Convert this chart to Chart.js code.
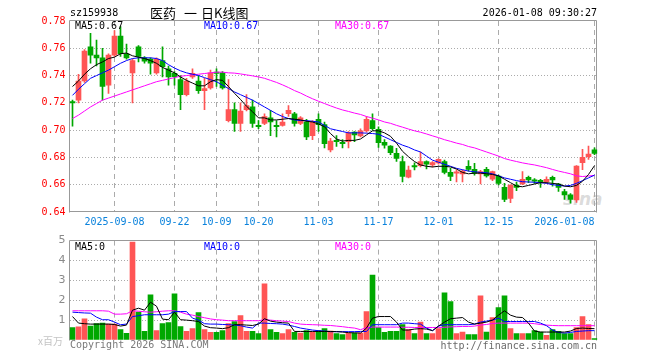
<!DOCTYPE html>
<html><head><meta charset="utf-8">
<script src="https://cdn.jsdelivr.net/npm/chart.js@4.4.1/dist/chart.umd.min.js"></script>
<style>
html,body{margin:0;padding:0;background:#fff;}
#wrap{position:relative;width:660px;height:360px;overflow:hidden;background:#fff;}
canvas{position:absolute;left:0;}
.t{position:absolute;font:10px 'DejaVu Sans Mono',monospace;line-height:10px;white-space:pre;}
</style></head><body>
<div id="wrap">
<div class="t" style="left:563px;top:191px;font:italic bold 17px 'DejaVu Sans',sans-serif;line-height:17px;color:rgba(175,175,175,0.45)">sina</div>
<canvas id="k" width="660" height="232" style="top:0"></canvas>
<canvas id="v" width="660" height="130" style="top:230px"></canvas>
<div class="t" style="left:70px;top:8px;color:#000">sz159938</div>
<div class="t" style="left:150px;top:6px;font:13px 'Noto Sans CJK SC',sans-serif;line-height:13px;color:#000">医药<span style="margin-left:8px">一</span><span style="margin-left:4px">日K线图</span></div>
<div class="t" style="right:63px;top:8px;color:#000">2026-01-08 09:30:27</div>
<div class="t" style="left:75px;top:21px;color:#000">MA5:0.67</div>
<div class="t" style="left:204px;top:21px;color:#0000ff">MA10:0.67</div>
<div class="t" style="left:335px;top:21px;color:#ff00ff">MA30:0.67</div>
<div class="t" style="left:75px;top:242px;color:#000">MA5:0</div>
<div class="t" style="left:204px;top:242px;color:#0000ff">MA10:0</div>
<div class="t" style="left:335px;top:242px;color:#ff00ff">MA30:0</div>
<div class="t" style="left:38px;top:336px;font:10px 'Noto Sans CJK SC',sans-serif;line-height:10px;color:#c4c4c4">x百万</div>
<div class="t" style="left:70px;top:340px;color:#7a7a7a">Copyright 2026 SINA.COM</div>
<div class="t" style="right:63px;top:341px;color:#6a6a6a">http://finance.sina.com.cn</div>
</div>
<script>
const dates = ['2025-08-28','2025-08-29',
'2025-09-01','2025-09-02','2025-09-03','2025-09-04','2025-09-05',
'2025-09-08','2025-09-09','2025-09-10','2025-09-11','2025-09-12',
'2025-09-15','2025-09-16','2025-09-17','2025-09-18','2025-09-19',
'2025-09-22','2025-09-23','2025-09-24','2025-09-25','2025-09-26',
'2025-09-29','2025-09-30',
'2025-10-09','2025-10-10',
'2025-10-13','2025-10-14','2025-10-15','2025-10-16','2025-10-17',
'2025-10-20','2025-10-21','2025-10-22','2025-10-23','2025-10-24',
'2025-10-27','2025-10-28','2025-10-29','2025-10-30','2025-10-31',
'2025-11-03','2025-11-04','2025-11-05','2025-11-06','2025-11-07',
'2025-11-10','2025-11-11','2025-11-12','2025-11-13','2025-11-14',
'2025-11-17','2025-11-18','2025-11-19','2025-11-20','2025-11-21',
'2025-11-24','2025-11-25','2025-11-26','2025-11-27','2025-11-28',
'2025-12-01','2025-12-02','2025-12-03','2025-12-04','2025-12-05',
'2025-12-08','2025-12-09','2025-12-10','2025-12-11','2025-12-12',
'2025-12-15','2025-12-16','2025-12-17','2025-12-18','2025-12-19',
'2025-12-22','2025-12-23','2025-12-24','2025-12-25','2025-12-26',
'2025-12-29','2025-12-30','2025-12-31',
'2026-01-05','2026-01-06','2026-01-07','2026-01-08'];

const tickDates  = ['2025-09-08','2025-09-22','2025-10-09','2025-10-20','2025-11-03','2025-11-17','2025-12-01','2025-12-15','2026-01-08'];
const tickLabels = ['2025-09-08','09-22','10-09','10-20','11-03','11-17','12-01','12-15','2026-01-08'];

const openP = [.721,.722,.736,.761,.755,.753,.733,.755,.769,.756,
.742,.761,.753,.752,.742,.751,.745,.7416,.737,.726,
.739,.736,.729,.731,.7425,.742,.707,.715,.705,.715,
.717,.7035,.705,.709,.7035,.7035,.712,.712,.705,.706,
.696,.708,.704,.6855,.6925,.691,.6915,.6985,.6957,.6995,
.707,.7006,.691,.6884,.683,.677,.6655,.674,.674,.677,
.6745,.676,.677,.669,.6685,.668,.6735,.6713,.668,.6713,
.664,.6664,.658,.650,.6598,.6605,.6654,.6636,.6632,.6623,
.6654,.6605,.6549,.6525,.6488,.6762,.6805,.6855];
const closeP = [.720,.736,.758,.755,.753,.732,.755,.769,.756,.753,
.751,.754,.7505,.749,.752,.7465,.739,.7392,.726,.736,
.7416,.729,.7305,.742,.7415,.731,.715,.705,.714,.718,
.705,.7025,.710,.706,.7025,.706,.7145,.705,.709,.695,
.706,.704,.690,.692,.6915,.690,.698,.6965,.6995,.708,
.701,.6908,.689,.6835,.6793,.666,.6708,.673,.677,.675,
.6762,.6786,.669,.666,.6695,.670,.6712,.6683,.6696,.6664,
.6696,.661,.6493,.6598,.6581,.664,.6635,.6626,.6622,.664,
.6635,.6581,.6525,.6493,.6737,.680,.6825,.683];
const highP = [.722,.741,.759,.771,.766,.760,.756,.773,.776,.763,
.752,.762,.754,.753,.753,.761,.747,.743,.740,.738,
.745,.740,.738,.744,.745,.743,.737,.720,.720,.726,
.722,.707,.712,.7145,.707,.712,.718,.713,.710,.708,
.707,.712,.706,.694,.696,.693,.699,.699,.701,.710,
.712,.7025,.693,.6886,.6866,.681,.6737,.676,.684,.6775,
.677,.679,.678,.672,.671,.671,.6776,.6757,.6705,.6727,
.670,.667,.661,.660,.662,.6696,.6664,.6645,.664,.6657,
.6664,.661,.6566,.6535,.674,.686,.6884,.687];
const lowP = [.703,.720,.735,.749,.747,.722,.727,.754,.754,.752,
.720,.750,.749,.741,.741,.739,.733,.733,.715,.725,
.738,.727,.715,.730,.732,.730,.706,.699,.699,.714,
.702,.701,.704,.696,.695,.703,.710,.703,.704,.693,
.693,.699,.687,.684,.688,.687,.687,.6915,.695,.6985,
.700,.6874,.6867,.682,.677,.662,.665,.6708,.673,.6715,
.673,.675,.668,.663,.662,.662,.670,.667,.6605,.6655,
.663,.6598,.6476,.6468,.6556,.660,.6615,.661,.658,.661,
.659,.655,.6493,.6464,.647,.671,.6786,.682];

const ma5 = [.732,.736,.741,.745,.748,.750,.7525,.7535,.756,.7565,
.7545,.7535,.7525,.751,.749,.746,.744,.742,.739,.7365,
.7345,.7325,.7325,.7355,.737,.7365,.732,.727,.7225,.7175,
.7135,.709,.709,.7075,.7075,.708,.7085,.708,.7075,.7065,
.706,.7045,.7025,.6975,.6935,.692,.6925,.6925,.6935,.6965,
.6995,.6995,.698,.6955,.6905,.6845,.6805,.677,.6745,.6735,
.673,.6735,.6735,.673,.6715,.669,.668,.6685,.6685,.668,
.6675,.6665,.664,.6615,.659,.6585,.6595,.6605,.6615,.6615,
.661,.6605,.659,.6585,.6595,.6625,.6675,.674];
const ma10 = [.7255,.730,.734,.738,.740,.742,.744,.7465,.749,.751,
.7525,.753,.753,.753,.7525,.751,.748,.7455,.7435,.742,
.741,.740,.7385,.737,.7355,.733,.7305,.728,.726,.724,
.722,.7195,.717,.7145,.712,.710,.7085,.7075,.707,.707,
.7065,.706,.7035,.701,.700,.699,.698,.698,.698,.6978,
.6975,.697,.695,.693,.691,.689,.6875,.6855,.684,.681,
.678,.6765,.675,.6735,.672,.671,.670,.6695,.669,.6688,
.668,.6665,.665,.664,.663,.6622,.662,.6618,.6615,.661,
.660,.6595,.659,.6595,.661,.663,.665,.667];
const ma30 = [.7085,.711,.714,.717,.7195,.722,.7235,.725,.7265,.728,
.7295,.731,.7325,.734,.7355,.7365,.7375,.7385,.7395,.740,
.7405,.741,.7415,.742,.7425,.7425,.742,.7418,.7412,.7405,
.7398,.739,.738,.7365,.735,.7332,.7312,.729,.7272,.725,
.723,.7212,.7195,.7178,.7162,.7148,.7137,.7125,.7115,.710,
.7088,.7075,.706,.705,.7035,.7022,.7008,.6995,.6985,.6972,
.6958,.6945,.693,.6918,.6905,.6895,.688,.687,.6855,.684,
.6825,.681,.6792,.678,.677,.676,.6752,.6745,.6735,.6725,
.6712,.670,.669,.668,.6665,.666,.6664,.6668];

const volume = [0.63,0.66,1.07,0.70,0.82,0.85,0.80,0.80,0.52,0.33,
4.93,1.40,0.43,2.27,0.47,0.82,0.88,2.32,0.68,0.43,
0.57,1.38,0.53,0.38,0.38,0.48,0.82,0.93,1.23,0.43,
0.43,0.32,2.82,0.52,0.38,0.32,0.52,0.38,0.35,0.47,
0.40,0.47,0.57,0.45,0.32,0.27,0.35,0.35,0.35,1.43,
3.27,0.63,0.38,0.43,0.43,0.77,0.52,0.32,0.90,0.32,
0.32,0.57,2.37,1.93,0.32,0.40,0.27,0.27,2.22,0.40,
1.13,1.63,2.22,0.57,0.32,0.32,0.32,0.47,0.40,0.23,
0.53,0.43,0.32,0.32,0.63,1.18,0.77,0.07];
const vma5 = [1.18,0.85,0.82,0.8,0.8,0.8,0.8,0.78,0.7,0.75,
1.5,1.6,1.5,1.9,1.7,1.05,1.02,1.4,1.02,1.0,
0.97,0.93,0.7,0.62,0.6,0.57,0.62,0.77,0.77,0.75,
0.73,0.8,1.07,0.95,0.9,0.87,0.85,0.43,0.43,0.43,
0.43,0.43,0.43,0.43,0.42,0.4,0.37,0.36,0.35,0.6,
1.1,1.18,1.18,1.18,0.9,0.5,0.5,0.55,0.57,0.55,
0.47,0.7,0.9,1.07,1.1,1.13,0.9,0.8,0.85,0.9,
1.0,1.25,1.47,1.25,1.15,1.13,0.85,0.45,0.4,0.4,
0.4,0.4,0.4,0.45,0.58,0.6,0.58,0.57];
const vma10 = [1.4,1.38,1.36,1.35,1.15,1.02,1.02,0.9,0.77,0.8,
1.18,1.22,1.27,1.27,1.27,1.27,1.3,1.43,1.43,1.43,
1.1,1.0,0.82,0.8,0.8,0.78,0.77,0.75,0.72,0.65,
0.6,0.85,0.85,0.83,0.82,0.8,0.75,0.68,0.6,0.55,
0.5,0.47,0.45,0.42,0.42,0.42,0.42,0.42,0.43,0.43,
0.77,0.77,0.77,0.77,0.77,0.85,0.85,0.82,0.8,0.6,
0.47,0.7,0.77,0.77,0.77,0.77,0.77,0.8,0.9,0.95,
1.0,1.1,0.93,0.93,0.93,0.93,0.93,0.93,0.85,0.72,
0.5,0.38,0.35,0.38,0.43,0.45,0.47,0.47];
const vma30 = [1.47,1.47,1.47,1.47,1.47,1.47,1.45,1.3,1.3,1.32,
1.47,1.45,1.42,1.4,1.42,1.45,1.47,1.47,1.4,1.3,
1.25,1.18,1.12,1.06,1.02,1.0,0.97,0.97,0.97,0.97,
0.97,0.97,1.02,1.0,0.97,0.95,0.93,0.85,0.8,0.78,
0.77,0.76,0.74,0.73,0.7,0.67,0.63,0.6,0.52,0.62,
0.65,0.65,0.65,0.65,0.65,0.64,0.64,0.63,0.63,0.63,
0.63,0.63,0.64,0.66,0.67,0.68,0.68,0.7,0.75,0.78,
0.83,0.85,0.85,0.85,0.85,0.85,0.85,0.82,0.78,0.75,
0.73,0.72,0.72,0.72,0.72,0.72,0.72,0.72];

const priceMin = 0.64, priceMax = 0.78, priceStep = 0.02;
const volMin = 0, volMax = 5, volStep = 1;

const RED = '#ff5555', GREEN = '#00a800', GRID = '#ababab', FRAME = '#999999';
const FONT = {family: "'DejaVu Sans Mono', monospace", size: 10};
const tickIdx = tickDates.map(d => dates.indexOf(d));
const candleColor = closeP.map((c, i) => c >= openP[i] ? RED : GREEN);

function framePlugin(sides) {
  return {
    id: 'frame',
    beforeDatasetsDraw(chart) {
      const {ctx, chartArea: a} = chart;
      const l = Math.floor(a.left) + 0.5, r = Math.floor(a.right) - 0.5;
      const t = Math.round(a.top) - 0.5, b = Math.round(a.bottom) - 0.5;
      ctx.save();
      ctx.strokeStyle = FRAME; ctx.lineWidth = 1; ctx.setLineDash([]);
      ctx.beginPath();
      if (sides.includes('t')) { ctx.moveTo(l, t); ctx.lineTo(r, t); }
      if (sides.includes('l')) { ctx.moveTo(l, t); ctx.lineTo(l, b + 1); }
      if (sides.includes('r')) { ctx.moveTo(r, t); ctx.lineTo(r, b + 1); }
      if (sides.includes('b')) { ctx.moveTo(l, b); ctx.lineTo(r, b); }
      ctx.stroke();
      ctx.restore();
    }
  };
}

function xScale(showLabels, h) {
  return {
    type: 'category', offset: true,
    afterFit: s => { s.height = h; },
    grid: {
      offset: false, drawTicks: false, lineWidth: 1,
      color: c => (c.tick && tickIdx.includes(c.tick.value)) ? GRID : 'rgba(0,0,0,0)'
    },
    border: {display: false, dash: [5, 4]},
    ticks: {
      display: showLabels, autoSkip: false, maxRotation: 0, minRotation: 0,
      align: 'inner', padding: 4, color: '#0a82dc', font: FONT,
      callback: (v, i) => { const k = tickIdx.indexOf(i); return k >= 0 ? tickLabels[k] : ''; }
    }
  };
}

function lineDs(data, color) {
  return {type: 'line', data, borderColor: color, borderWidth: 1, pointRadius: 0,
          fill: false, tension: 0, spanGaps: true};
}

new Chart(document.getElementById('k'), {
  type: 'bar',
  data: {
    labels: dates,
    datasets: [
      lineDs(ma5, '#000000'),
      lineDs(ma10, '#0000ff'),
      lineDs(ma30, '#ff00ff'),
      {data: openP.map((o, i) => [o, closeP[i]]), backgroundColor: candleColor,
       barThickness: 5, grouped: false, borderWidth: 0},
      {data: lowP.map((l, i) => [l, highP[i]]), backgroundColor: candleColor,
       barThickness: 1, grouped: false, borderWidth: 0}
    ]
  },
  options: {
    responsive: false, animation: false, devicePixelRatio: 1,
    layout: {padding: {top: 21, right: 62.5, left: 0, bottom: 0}},
    plugins: {legend: {display: false}, tooltip: {enabled: false}},
    scales: {
      x: xScale(true, 20),
      y: {
        min: priceMin, max: priceMax,
        afterFit: s => { s.width = 69.5; },
        grid: {drawTicks: false, lineWidth: 1,
               color: c => (c.tick && c.tick.value > priceMin + 0.001 && c.tick.value < priceMax - 0.001) ? GRID : 'rgba(0,0,0,0)'},
        border: {display: false, dash: [1, 2]},
        ticks: {stepSize: priceStep, padding: 4, color: '#ff0000', font: FONT,
                callback: v => Number(v).toFixed(2)}
      }
    }
  },
  plugins: [framePlugin('tlrb')]
});

new Chart(document.getElementById('v'), {
  type: 'bar',
  data: {
    labels: dates,
    datasets: [
      lineDs(vma5, '#000000'),
      lineDs(vma10, '#0000ff'),
      lineDs(vma30, '#ff00ff'),
      {data: volume, backgroundColor: candleColor, barThickness: 5, grouped: false, borderWidth: 0}
    ]
  },
  options: {
    responsive: false, animation: false, devicePixelRatio: 1,
    layout: {padding: {top: 10, right: 62.5, left: 0, bottom: 0}},
    plugins: {legend: {display: false}, tooltip: {enabled: false}},
    scales: {
      x: xScale(false, 20),
      y: {
        min: volMin, max: volMax,
        afterFit: s => { s.width = 69.5; },
        grid: {drawTicks: false, lineWidth: 1,
               color: c => (c.tick && c.tick.value > volMin && c.tick.value < volMax) ? GRID : 'rgba(0,0,0,0)'},
        border: {display: false, dash: [1, 2]},
        ticks: {stepSize: volStep, padding: 4, color: '#8a8a8a', font: {family: "'DejaVu Sans', sans-serif", size: 11},
                callback: v => v === 0 ? '' : String(v)}
      }
    }
  },
  plugins: [framePlugin('tlr')]
});
</script>
</body></html>
